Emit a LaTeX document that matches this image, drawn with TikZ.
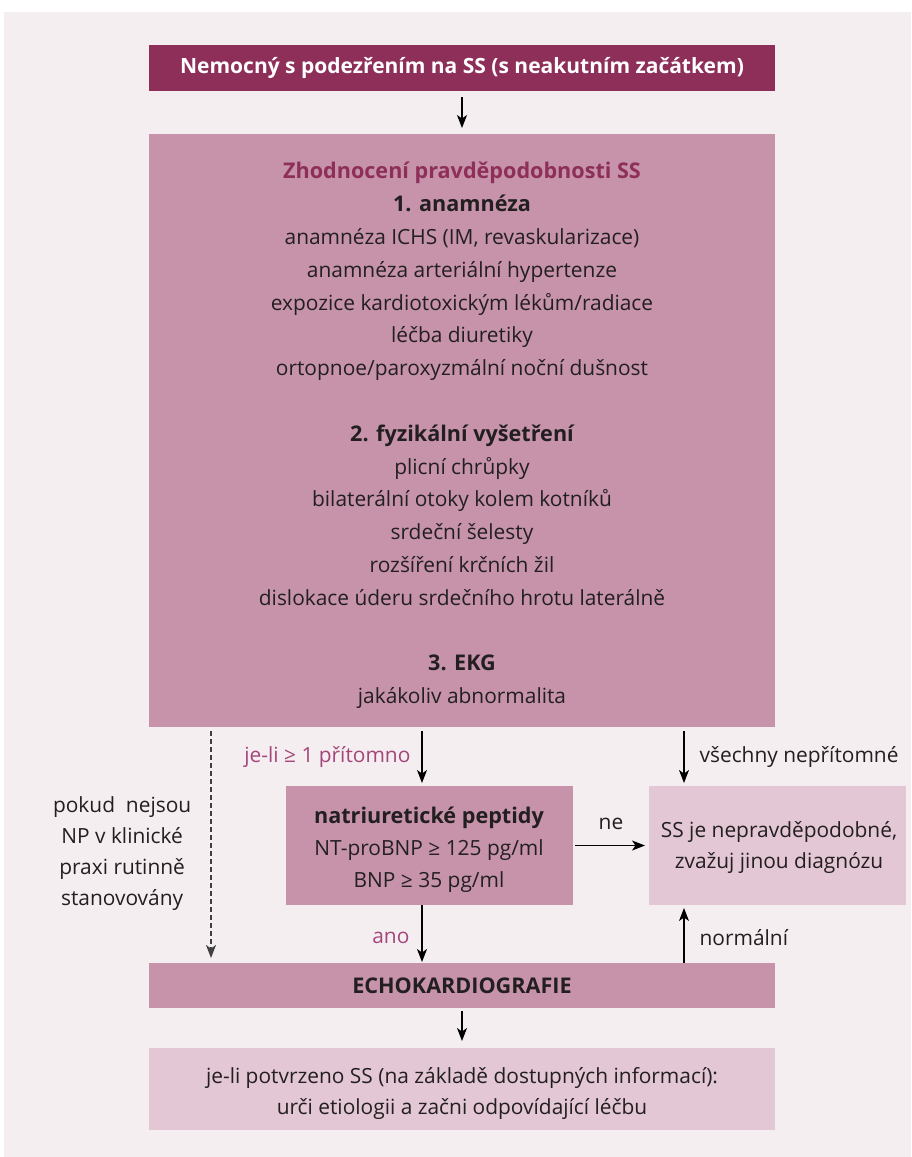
\documentclass[tikz,border=0pt]{standalone}
\usepackage{fontspec}
\setmainfont{Open Sans}
\usetikzlibrary{arrows.meta,calc}
\definecolor{bgc}{HTML}{F5EEF1}
\definecolor{darkc}{HTML}{8E2F5A}
\definecolor{midc}{HTML}{C693AA}
\definecolor{lightc}{HTML}{E3C7D4}
\definecolor{txtc}{HTML}{231F20}
\definecolor{accentc}{HTML}{A4467A}
\newcommand\gesym{≥}
\newcommand\hb[1]{{\bfseries\fontsize{21.6pt}{32.8pt}\selectfont #1}}
\begin{document}
\begin{tikzpicture}[x=1pt,y=-1pt,
  box/.style={draw=none, inner sep=0pt, outer sep=0pt},
  txt/.style={inner sep=0pt, align=center, text=txtc, font=\fontsize{20.9pt}{32.8pt}\selectfont},
  arr/.style={draw=black, line width=1.2pt, -{Stealth[length=13pt,width=10pt,inset=3.5pt]}},
  lbl/.style={inner sep=0pt, text=txtc, font=\fontsize{20.9pt}{26pt}\selectfont},
  albl/.style={lbl, text=accentc}]
\useasboundingbox (0,0) rectangle (911,1157);
\fill[white] (0,0) rectangle (911,1157);
\fill[bgc] (4,12) rectangle (911,1157);

% boxes
\node[box, fill=darkc, minimum width=626pt, minimum height=46pt] (top) at (462,68) {};
\node[box, fill=midc, minimum width=626pt, minimum height=593pt] (main) at (462,430.5) {};
\node[box, fill=midc, minimum width=287pt, minimum height=119pt] (np) at (429.5,845.5) {};
\node[box, fill=lightc, minimum width=257pt, minimum height=119pt] (ss) at (777.5,845.5) {};
\node[box, fill=midc, minimum width=626pt, minimum height=45pt] (echo) at (462,985.5) {};
\node[box, fill=lightc, minimum width=626pt, minimum height=82pt] (last) at (462,1089) {};

% texts
\node[txt, text=white, font=\bfseries\fontsize{21pt}{26pt}\selectfont] (toptext) at (top.center) {Nemocný s podezřením na SS (s neakutním začátkem)};
\node[txt] (maintext) at (462,435.5) {%
  \hb{\color{darkc}Zhodnocení pravděpodobnosti SS}\\
  \hb{1. anamnéza}\\
  anamnéza ICHS (IM, revaskularizace)\\
  anamnéza arteriální hypertenze\\
  expozice kardiotoxickým lékům/radiace\\
  léčba diuretiky\\
  ortopnoe/paroxyzmální noční dušnost\\[32.8pt]
  \hb{2. fyzikální vyšetření}\\
  plicní chrůpky\\
  bilaterální otoky kolem kotníků\\
  srdeční šelesty\\
  rozšíření krčních žil\\
  dislokace úderu srdečního hrotu laterálně\\[32.8pt]
  \hb{3. EKG}\\
  jakákoliv abnormalita};
\node[txt, font=\fontsize{20.9pt}{32pt}\selectfont] (nptext) at (429,849.5) {%
  \hb{natriuretické peptidy}\\
  NT-proBNP \gesym{} 125 pg/ml\\
  BNP \gesym{} 35 pg/ml};
\node[txt, font=\fontsize{20.9pt}{31pt}\selectfont] (sstext) at (779,847.5) {%
  SS je nepravděpodobné,\\
  zvažuj jinou diagnózu};
\node[txt, font=\bfseries\fontsize{21.6pt}{26pt}\selectfont] (echotext) at (echo.center) {ECHOKARDIOGRAFIE};
\node[txt, font=\fontsize{20.9pt}{31pt}\selectfont] (lasttext) at (462,1093) {%
  je-li potvrzeno SS (na základě dostupných informací):\\
  urči etiologii a začni odpovídající léčbu};

% connectors
\draw[arr, shorten <=6pt, shorten >=6pt] (top.south) -- (main.north);
\draw[arr, shorten <=4pt, shorten >=3pt] ([xshift=-40pt]main.south) -- ([xshift=-40pt]main.south |- np.north)
  node[albl, pos=0.5, anchor=east, xshift=-11pt] (l1) {je-li \gesym{} 1 přítomno};
\draw[arr, shorten <=4pt, shorten >=3pt] ([xshift=222pt]main.south) -- ([xshift=222pt]main.south |- ss.north)
  node[lbl, pos=0.5, anchor=west, xshift=15pt] (l2) {všechny nepřítomné};
\draw[arr, shorten <=2pt, shorten >=4pt] (np.east) -- (ss.west)
  node[lbl, pos=0.5, yshift=22pt] (l3) {ne};
\draw[arr, shorten <=0pt, shorten >=1pt] ([xshift=-7.5pt]np.south) -- ([xshift=-7.5pt]np.south |- echo.north)
  node[albl, pos=0.57, anchor=east, xshift=-12pt] (l4) {ano};
\draw[arr, shorten <=0pt, shorten >=3pt] ([xshift=222pt]echo.north) -- ([xshift=222pt]echo.north |- ss.south)
  node[lbl, pos=0.43, anchor=west, xshift=15pt] (l5) {normální};
\draw[arr, draw=black!75, dash pattern=on 5pt off 3pt, line width=1.6pt, shorten <=4pt, shorten >=5pt]
  ([xshift=-251pt]main.south) -- ([xshift=-251pt]main.south |- echo.north)
  node[lbl, pos=0.53, anchor=east, xshift=-19pt, yshift=-1.5pt, align=center, font=\fontsize{20.9pt}{30.7pt}\selectfont] (l6)
  {pokud\ \ nejsou\\NP v klinické\\praxi rutinně\\stanovovány};
\draw[arr, shorten <=3pt, shorten >=7pt] (echo.south) -- (last.north);
\end{tikzpicture}
\end{document}
